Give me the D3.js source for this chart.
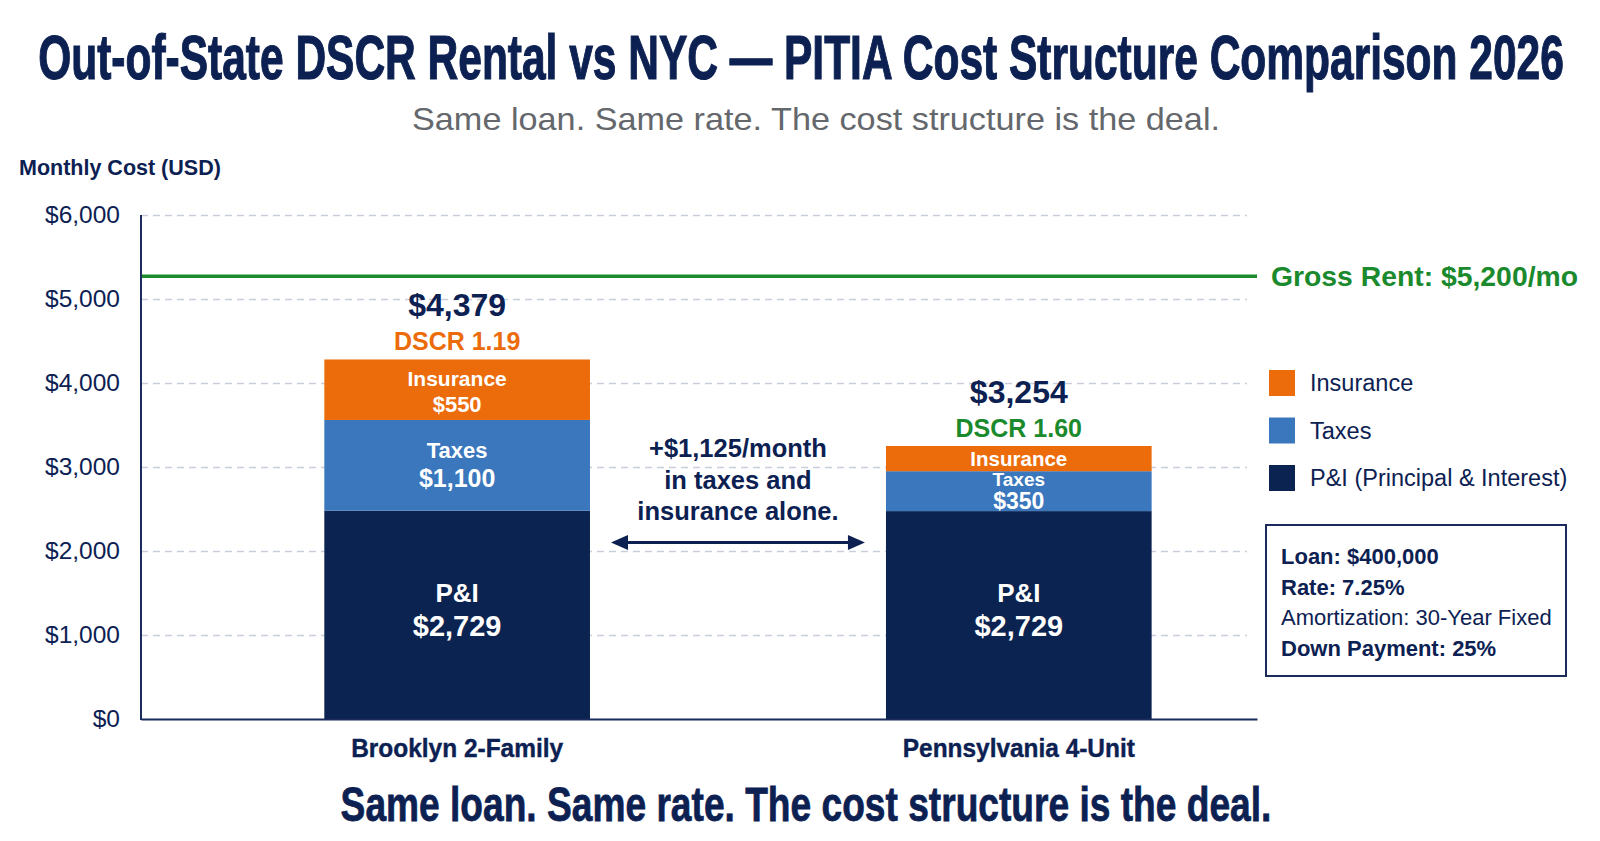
<!DOCTYPE html>
<html>
<head>
<meta charset="utf-8">
<script src="https://cdn.jsdelivr.net/npm/d3@7"></script>
<style>
  body { margin: 0; background: #fff; }
  svg { display: block; font-family: 'Liberation Sans', Arial, sans-serif; }
</style>
</head>
<body>
<svg id="chart" width="1600" height="841"></svg>
<script>
// values
const categories = ['Brooklyn 2-Family', 'Pennsylvania 4-Unit'];
const piValues = [2480, 2475];
const taxValues = [1080, 475];
const insValues = [720, 300];
const grossRent = 5270;
const yTicks = [0, 1000, 2000, 3000, 4000, 5000, 6000];

const totalLabels = ['$4,379', '$3,254'];
const dscrLabels = ['DSCR 1.19', 'DSCR 1.60'];
const piLabels = ['$2,729', '$2,729'];
const taxLabels = ['$1,100', '$350'];
const insLabels = ['$550', ''];
const legendItems = ['Insurance', 'Taxes', 'P&I (Principal & Interest)'];
const loanTerms = ['Loan: $400,000', 'Rate: 7.25%', 'Amortization: 30-Year Fixed', 'Down Payment: 25%'];

const navy = '#0c2152';
const colors = { pi: '#0b2350', tax: '#3a77bd', ins: '#ec6c0b' };
const green = '#1b8a2d';
const dscrColors = ['#ec6c0b', green];

const svg = d3.select('#chart');
const narrow = "'Liberation Sans Narrow', 'Liberation Sans', Arial, sans-serif";

// condensed heading: size the font to the width, then stretch it up to the cap height
function condensed(str, cx, baseline, size, width, strokeW) {
    const t = svg.append('text')
        .attr('text-anchor', 'middle')
        .attr('font-family', narrow).attr('font-weight', 700)
        .attr('font-size', size)
        .attr('fill', navy).attr('stroke', navy).attr('stroke-width', strokeW)
        .text(str);
    const w = t.node().getComputedTextLength();
    const f = Math.min(size, size * width / w);
    t.attr('font-size', f)
        .attr('transform', `translate(${cx},${baseline}) scale(${width / (w * f / size)},${size / f})`);
    return t;
}

// titles
condensed('Out-of-State DSCR Rental vs NYC \u2014 PITIA Cost Structure Comparison 2026', 801, 79, 63, 1526, 0.8);

svg.append('text')
    .attr('x', 816).attr('y', 130)
    .attr('text-anchor', 'middle')
    .attr('font-size', 32).attr('fill', '#64676c')
    .attr('textLength', 808).attr('lengthAdjust', 'spacingAndGlyphs')
    .text('Same loan. Same rate. The cost structure is the deal.');

svg.append('text')
    .attr('x', 19).attr('y', 175)
    .attr('font-size', 21.5).attr('font-weight', 700).attr('fill', navy)
    .text('Monthly Cost (USD)');

// scales
const x = d3.scaleBand()
    .domain(categories)
    .range([141, 1257])
    .paddingInner(0.527)
    .paddingOuter(0.257)
    .align(0.635);

const y = d3.scaleLinear()
    .domain([0, 6000])
    .range([719, 215]);

// grid
svg.append('g')
    .attr('transform', 'translate(141,0)')
    .call(d3.axisLeft(y).tickValues(yTicks.filter(d => d > 0)).tickSize(-1106).tickFormat(''))
    .call(g => g.select('.domain').remove())
    .call(g => g.selectAll('line')
        .attr('stroke', '#c9cfda')
        .attr('stroke-width', 1.5)
        .attr('stroke-dasharray', '7,5'));

// y axis labels
svg.append('g')
    .attr('transform', 'translate(141,0)')
    .call(d3.axisLeft(y).tickValues(yTicks).tickSize(0).tickPadding(21).tickFormat(d => '$' + d3.format(',')(d)))
    .call(g => g.select('.domain').remove())
    .call(g => g.selectAll('text')
        .attr('font-family', "'Liberation Sans', Arial, sans-serif")
        .attr('font-size', 24.5)
        .attr('fill', navy)
        .attr('dy', '0.3em'));

// stacked bars
const stacks = categories.map((c, i) => {
    const segs = [
        { key: 'pi', name: 'P&I', v0: 0, v1: piValues[i], label: piLabels[i] },
        { key: 'tax', name: 'Taxes', v0: piValues[i], v1: piValues[i] + taxValues[i], label: taxLabels[i] },
        { key: 'ins', name: 'Insurance', v0: piValues[i] + taxValues[i], v1: piValues[i] + taxValues[i] + insValues[i], label: insLabels[i] }
    ];
    return { cat: c, i: i, segs: segs, total: segs[2].v1 };
});

const bars = svg.append('g').selectAll('g')
    .data(stacks)
    .enter()
    .append('g');

bars.selectAll('rect')
    .data(d => d.segs.map(s => Object.assign({ cat: d.cat }, s)))
    .enter()
    .append('rect')
    .attr('x', d => x(d.cat))
    .attr('y', d => y(d.v1))
    .attr('width', x.bandwidth())
    .attr('height', d => y(d.v0) - y(d.v1))
    .attr('fill', d => colors[d.key]);

// labels inside segments
bars.each(function(d) {
    const g = d3.select(this);
    const cx = x(d.cat) + x.bandwidth() / 2;
    d.segs.forEach(s => {
        const top = y(s.v1), bot = y(s.v0);
        const mid = (top + bot) / 2;
        const h = bot - top;
        const compact = h < 50;
        const lines = [];
        if (s.key === 'pi') {
            lines.push({ t: s.name, y: mid - 13, size: 26 });
            lines.push({ t: s.label, y: mid + 21, size: 29 });
        } else if (!s.label) {
            lines.push({ t: s.name, y: mid + 7, size: 20.5 });
        } else if (compact) {
            lines.push({ t: s.name, y: mid - 5, size: 19 });
            lines.push({ t: s.label, y: mid + 18, size: 23 });
        } else if (s.key === 'ins') {
            lines.push({ t: s.name, y: mid - 4, size: 21 });
            lines.push({ t: s.label, y: mid + 22, size: 22 });
        } else {
            lines.push({ t: s.name, y: mid - 7, size: 22 });
            lines.push({ t: s.label, y: mid + 22, size: 25 });
        }
        lines.forEach(l => {
            g.append('text')
                .attr('x', cx).attr('y', l.y)
                .attr('text-anchor', 'middle')
                .attr('font-weight', 700)
                .attr('font-size', l.size)
                .attr('fill', '#fff')
                .text(l.t);
        });
    });

    const top = y(d.total);
    g.append('text')
        .attr('x', cx).attr('y', top - 43)
        .attr('text-anchor', 'middle')
        .attr('font-weight', 700).attr('font-size', 32)
        .attr('fill', navy)
        .text(totalLabels[d.i]);
    g.append('text')
        .attr('x', cx).attr('y', top - 9)
        .attr('text-anchor', 'middle')
        .attr('font-weight', 700).attr('font-size', 25)
        .attr('fill', dscrColors[d.i])
        .text(dscrLabels[d.i]);
});

// axis lines
svg.append('line')
    .attr('x1', 141).attr('x2', 141)
    .attr('y1', y(6000)).attr('y2', y(0) + 1)
    .attr('stroke', '#1b2b5c').attr('stroke-width', 2);

svg.append('g')
    .attr('transform', `translate(0,${y(0)})`)
    .call(d3.axisBottom(x).tickSize(0).tickPadding(20))
    .call(g => g.select('.domain').attr('stroke', '#1b2b5c').attr('stroke-width', 2))
    .call(g => g.selectAll('text')
        .attr('font-family', narrow)
        .attr('font-weight', 700)
        .attr('font-size', 26)
        .attr('fill', navy)
        .attr('stroke', navy).attr('stroke-width', 0.4)
        .attr('dy', '0.71em')
        .attr('textLength', (d, i) => [212, 232][i])
        .attr('lengthAdjust', 'spacingAndGlyphs'));

// gross rent line
svg.append('line')
    .attr('x1', 142).attr('x2', 1257)
    .attr('y1', y(grossRent)).attr('y2', y(grossRent))
    .attr('stroke', green).attr('stroke-width', 3.5);

svg.append('text')
    .attr('x', 1271).attr('y', y(grossRent) + 10)
    .attr('font-weight', 700).attr('font-size', 28)
    .attr('fill', green)
    .attr('textLength', 307).attr('lengthAdjust', 'spacingAndGlyphs')
    .text('Gross Rent: $5,200/mo');

// gap annotation
const leftEnd = x(categories[0]) + x.bandwidth();
const rightStart = x(categories[1]);
const midX = (leftEnd + rightStart) / 2;
const annLines = ['+$1,125/month', 'in taxes and', 'insurance alone.'];
svg.append('g').selectAll('text')
    .data(annLines)
    .enter()
    .append('text')
    .attr('x', midX)
    .attr('y', (d, i) => 457 + i * 31.5)
    .attr('text-anchor', 'middle')
    .attr('font-weight', 700).attr('font-size', 25.5)
    .attr('fill', navy)
    .text(d => d);

const arrowY = y(2100);
const ax1 = leftEnd + 21, ax2 = rightStart - 21;
svg.append('line')
    .attr('x1', ax1 + 12).attr('x2', ax2 - 12)
    .attr('y1', arrowY).attr('y2', arrowY)
    .attr('stroke', navy).attr('stroke-width', 3);
svg.append('path')
    .attr('d', `M${ax1},${arrowY} L${ax1 + 17},${arrowY - 7.5} L${ax1 + 17},${arrowY + 7.5} Z`)
    .attr('fill', navy);
svg.append('path')
    .attr('d', `M${ax2},${arrowY} L${ax2 - 17},${arrowY - 7.5} L${ax2 - 17},${arrowY + 7.5} Z`)
    .attr('fill', navy);

// legend
const legendColors = [colors.ins, colors.tax, colors.pi];
const legend = svg.append('g').attr('transform', 'translate(1269,370)');
legend.selectAll('rect')
    .data(legendItems)
    .enter()
    .append('rect')
    .attr('x', 0).attr('y', (d, i) => i * 47.5)
    .attr('width', 26).attr('height', 26)
    .attr('fill', (d, i) => legendColors[i]);
legend.selectAll('text')
    .data(legendItems)
    .enter()
    .append('text')
    .attr('x', 41).attr('y', (d, i) => i * 47.5 + 21)
    .attr('font-size', 23.5)
    .attr('fill', navy)
    .text(d => d);

// loan terms box
svg.append('rect')
    .attr('x', 1266).attr('y', 525)
    .attr('width', 300).attr('height', 151)
    .attr('fill', '#fff')
    .attr('stroke', '#1b2b5c').attr('stroke-width', 2);

svg.append('g').selectAll('text')
    .data(loanTerms)
    .enter()
    .append('text')
    .attr('x', 1281)
    .attr('y', (d, i) => 564 + i * 30.5)
    .attr('font-size', 22)
    .attr('font-weight', (d, i) => i === 2 ? 400 : 700)
    .attr('fill', navy)
    .text(d => d);

// footer
condensed('Same loan. Same rate. The cost structure is the deal.', 806, 821, 48, 931, 0.6);
</script>
</body>
</html>
